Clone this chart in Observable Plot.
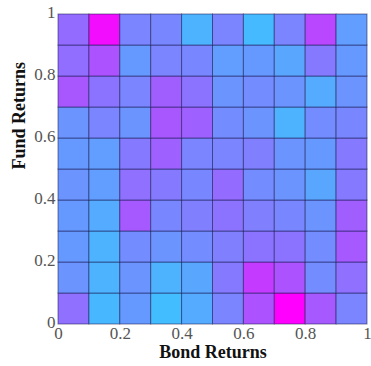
<!DOCTYPE html>
<html>
<head>
<meta charset="utf-8">
<script src="https://cdn.jsdelivr.net/npm/d3@7"></script>
<script src="https://cdn.jsdelivr.net/npm/@observablehq/plot@0.6"></script>
<style>
  body { margin: 0; background: #fff; }
  #chart svg, #chart svg text { font-family: 'Liberation Serif', 'DejaVu Serif', serif !important; }
</style>
</head>
<body>
<div id="chart"></div>
<script>
// Bin edges for Bond Returns (x) and Fund Returns (y)
const binEdges = [0, 0.1, 0.2, 0.3, 0.4, 0.5, 0.6, 0.7, 0.8, 0.9, 1];
const xTicks = [0, 0.2, 0.4, 0.6, 0.8, 1];
const yTicks = [0, 0.2, 0.4, 0.6, 0.8, 1];
const xLabel = "Bond Returns";
const yLabel = "Fund Returns";

// Cell intensities, rows listed from the bottom bin (Fund 0–0.1) to the top bin (0.9–1)
const row0 = [0.56, 0.28, 0.40, 0.26, 0.33, 0.48, 0.68, 1.00, 0.65, 0.48];
const row1 = [0.42, 0.30, 0.42, 0.30, 0.35, 0.52, 0.77, 0.68, 0.45, 0.56];
const row2 = [0.40, 0.30, 0.45, 0.42, 0.45, 0.50, 0.55, 0.55, 0.45, 0.65];
const row3 = [0.40, 0.33, 0.65, 0.47, 0.50, 0.55, 0.50, 0.47, 0.42, 0.63];
const row4 = [0.42, 0.38, 0.56, 0.52, 0.47, 0.58, 0.45, 0.42, 0.35, 0.52];
const row5 = [0.40, 0.38, 0.52, 0.62, 0.48, 0.48, 0.50, 0.42, 0.40, 0.52];
const row6 = [0.42, 0.48, 0.42, 0.66, 0.62, 0.45, 0.42, 0.30, 0.45, 0.47];
const row7 = [0.66, 0.55, 0.48, 0.63, 0.55, 0.42, 0.45, 0.42, 0.33, 0.42];
const row8 = [0.57, 0.68, 0.40, 0.48, 0.47, 0.38, 0.40, 0.35, 0.52, 0.40];
const row9 = [0.58, 0.95, 0.48, 0.47, 0.30, 0.48, 0.27, 0.48, 0.72, 0.38];
const rows = [row0, row1, row2, row3, row4, row5, row6, row7, row8, row9];

const cells = [];
rows.forEach((row, j) => {
  row.forEach((v, i) => {
    cells.push({x1: binEdges[i], x2: binEdges[i + 1], y1: binEdges[j], y2: binEdges[j + 1], v});
  });
});

const chart = Plot.plot({
  width: 371,
  height: 366,
  marginLeft: 58,
  marginRight: 4,
  marginTop: 14,
  marginBottom: 42,
  style: "font-family: 'Liberation Serif', serif; background: #fff;",
  x: {domain: [0, 1], axis: null},
  y: {domain: [0, 1], axis: null},
  color: {type: "linear", domain: [0, 1], range: ["#00ffff", "#ff00ff"], interpolate: "rgb"},
  marks: [
    Plot.rect(cells, {x1: "x1", x2: "x2", y1: "y1", y2: "y2", fill: "v", stroke: "#1a1a50", strokeOpacity: 0.55, strokeWidth: 1}),
    // x tick labels
    Plot.text(xTicks, {x: d => d, frameAnchor: "bottom", lineAnchor: "top", dy: 2, text: d => String(d), fontSize: 17, fill: "#555"}),
    // y tick labels
    Plot.text(yTicks, {y: d => d, frameAnchor: "left", textAnchor: "end", dx: -3, dy: -2, text: d => String(d), fontSize: 17, fill: "#555"}),
    Plot.text([xLabel], {frameAnchor: "bottom", lineAnchor: "top", dy: 21, fontWeight: "bold", fontSize: 18, fill: "#111", text: d => d}),
    Plot.text([yLabel], {frameAnchor: "left", dx: -39, rotate: -90, fontWeight: "bold", fontSize: 18, fill: "#111", text: d => d})
  ]
});
document.getElementById("chart").appendChild(chart);
</script>
</body>
</html>
